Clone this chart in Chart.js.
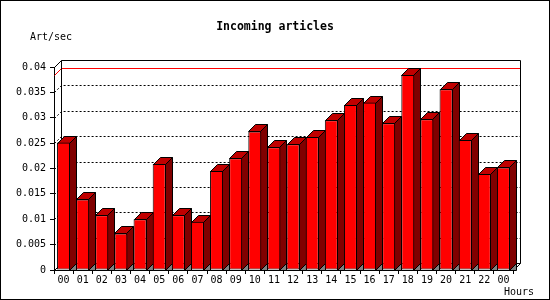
<!DOCTYPE html>
<html>
<head>
<meta charset="utf-8">
<script src="https://cdn.jsdelivr.net/npm/chart.js@4/dist/chart.umd.min.js"></script>
<style>
  html, body { margin: 0; padding: 0; background: #fff; }
  canvas { display: block; }
</style>
</head>
<body>
<canvas id="chart" width="550" height="300"></canvas>
<script>
const hours = ['00', '01', '02', '03', '04', '05', '06', '07', '08', '09', '10', '11',
               '12', '13', '14', '15', '16', '17', '18', '19', '20', '21', '22', '00'];
const artPerSec = [0.0251, 0.0139, 0.0108, 0.0072, 0.0100, 0.0209, 0.0108, 0.0095,
                   0.0195, 0.0220, 0.0273, 0.0242, 0.0248, 0.0262, 0.0295, 0.0325,
                   0.0330, 0.0289, 0.0384, 0.0297, 0.0356, 0.0256, 0.0189, 0.0202];
const yMin = 0, yMax = 0.04, yStep = 0.005;
const maxRate = Math.max(...artPerSec);

const DEPTH = 7;
const MONO = '"DejaVu Sans Mono", monospace';

function line(ctx, pts) {
    ctx.beginPath();
    ctx.moveTo(pts[0][0], pts[0][1]);
    for (let i = 1; i < pts.length; i++) ctx.lineTo(pts[i][0], pts[i][1]);
    ctx.stroke();
}

function poly(ctx, pts, fill) {
    ctx.beginPath();
    ctx.moveTo(pts[0][0], pts[0][1]);
    for (let i = 1; i < pts.length; i++) ctx.lineTo(pts[i][0], pts[i][1]);
    ctx.closePath();
    ctx.fillStyle = fill;
    ctx.fill();
    ctx.stroke();
}

// back wall, grid, max line and the bar sides/tops
const frame3d = {
    id: 'frame3d',
    beforeDatasetsDraw(chart) {
        const { ctx, chartArea: a, scales: { y } } = chart;
        const D = DEPTH;
        const L = Math.round(a.left) + 0.5, R = Math.round(a.right) + 0.5;
        const T = Math.round(a.top) + 0.5, B = Math.round(a.bottom) + 0.5;
        ctx.save();
        ctx.lineWidth = 1;
        ctx.strokeStyle = '#000';

        ctx.setLineDash([2, 2]);
        for (let v = yMin + yStep; v < yMax - 1e-9; v += yStep) {
            const py = Math.round(y.getPixelForValue(v)) + 0.5;
            line(ctx, [[L, py], [L + D, py - D], [R + D, py - D]]);
        }
        ctx.setLineDash([]);

        const my = Math.round(y.getPixelForValue(maxRate)) + 0.5;
        ctx.strokeStyle = '#ff0000';
        line(ctx, [[L, my], [L + D, my - D], [R + D, my - D]]);

        ctx.strokeStyle = '#000';
        line(ctx, [[L, T], [L + D, T - D], [R + D, T - D], [R + D, B - D], [R, B]]);
        line(ctx, [[L + D, T - D], [L + D, B - D], [R + D, B - D]]);
        line(ctx, [[L, B], [L + D, B - D]]);

        const meta = chart.getDatasetMeta(0);
        meta.data.forEach(bar => {
            const p = bar.getProps(['x', 'y', 'base', 'width'], true);
            const l = Math.round(p.x - p.width / 2) + 0.5;
            const r = Math.round(p.x + p.width / 2) - 0.5;
            const top = Math.round(p.y) + 0.5;
            const base = Math.round(p.base) + 0.5;
            poly(ctx, [[r, base], [r + D, base - D], [r + D, base]], '#808080');
            poly(ctx, [[r, top], [r + D, top - D], [r + D, base - D], [r, base]], '#800000');
            poly(ctx, [[l, top], [l + D, top - D], [r + D, top - D], [r, top]], '#c00000');
        });
        ctx.restore();
    },
    afterDraw(chart) {
        const ctx = chart.ctx;
        ctx.save();
        ctx.fillStyle = '#000';
        ctx.textBaseline = 'middle';
        ctx.font = 'bold 11.5px ' + MONO;
        ctx.textAlign = 'center';
        ctx.fillText('Incoming articles', 275, 27);
        ctx.font = '10px ' + MONO;
        ctx.textAlign = 'left';
        ctx.fillText('Art/sec', 30, 37);
        ctx.fillText('Hours', 504, 292);
        ctx.strokeStyle = '#000';
        ctx.lineWidth = 1;
        ctx.strokeRect(0.5, 0.5, 549, 299);
        ctx.restore();
    }
};

new Chart(document.getElementById('chart').getContext('2d'), {
    type: 'bar',
    data: {
        labels: hours,
        datasets: [{
            label: 'Art/sec',
            data: artPerSec,
            backgroundColor: '#ff0000',
            borderColor: '#000',
            borderWidth: 1,
            borderSkipped: false,
            categoryPercentage: 1,
            barPercentage: 0.68
        }]
    },
    options: {
        responsive: false,
        animation: false,
        layout: { padding: { top: 67, right: 37, left: 0, bottom: 0 } },
        plugins: { legend: { display: false }, tooltip: { enabled: false }, title: { display: false } },
        scales: {
            x: {
                afterFit: s => { s.height = 30; },
                grid: { offset: true, drawOnChartArea: false, tickLength: 4, color: '#000' },
                border: { display: true, color: '#000' },
                ticks: { color: '#000', font: { family: MONO, size: 10 }, padding: 0,
                         maxRotation: 0, autoSkip: false }
            },
            y: {
                min: yMin, max: yMax,
                afterFit: s => { s.width = 54; },
                grid: { drawOnChartArea: false, tickLength: 4, color: '#000' },
                border: { display: true, color: '#000' },
                ticks: { stepSize: yStep, color: '#000', font: { family: MONO, size: 10 }, padding: 4,
                         callback: v => String(+v.toFixed(3)) }
            }
        }
    },
    plugins: [frame3d]
});
</script>
</body>
</html>
